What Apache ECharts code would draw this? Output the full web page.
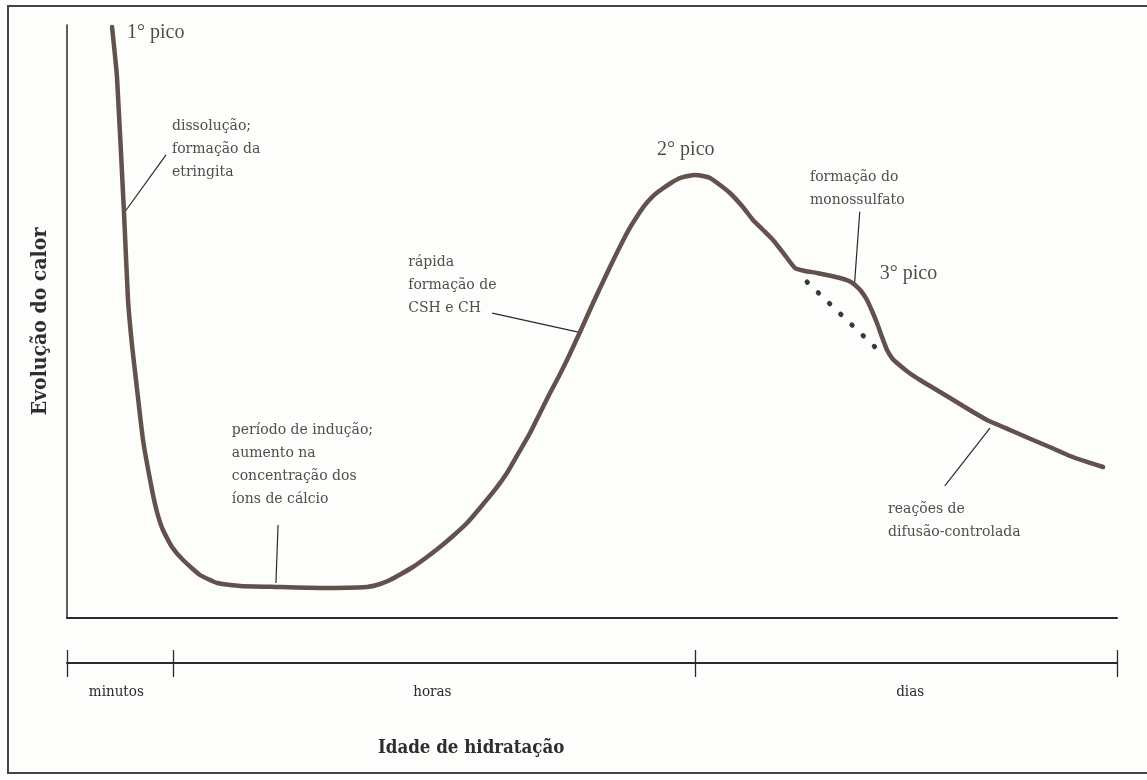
<!DOCTYPE html>
<html>
<head>
<meta charset="utf-8">
<script src="https://cdn.jsdelivr.net/npm/echarts@6/dist/echarts.min.js"></script>
<style>
  html, body { margin: 0; padding: 0; background: #fdfdfb; }
  #chart { width: 1147px; height: 780px; }
</style>
</head>
<body>
<div id="chart"></div>
<script>
// Heat evolution curve of cement hydration (relative units, time axis 0-100)
const heatCurve = [
  [4.29, 99.66], [4.76, 91.23], [5.43, 68.3], [5.81, 53.63], [6.19, 46.04],
  [6.57, 40.13], [7.24, 30.02], [8.10, 21.59], [8.57, 17.88], [9.14, 14.84],
  [10.0, 11.97], [11.05, 9.78], [12.67, 7.25], [14.29, 5.9], [16.48, 5.4],
  [19.9, 5.23], [24.1, 5.06], [28.57, 5.23], [29.81, 5.73], [30.76, 6.41],
  [31.81, 7.42], [32.95, 8.6], [34.29, 10.29], [35.52, 11.97], [36.76, 13.83],
  [38.1, 16.02], [39.33, 18.55], [40.67, 21.42], [41.9, 24.45], [42.95, 27.66],
  [44.1, 31.2], [45.05, 34.57], [46.0, 37.94], [46.86, 40.81], [47.62, 43.51],
  [48.86, 48.23], [50.1, 53.12], [51.71, 59.19], [53.33, 64.92], [54.19, 67.45],
  [55.05, 69.65], [55.81, 71.16], [56.67, 72.34], [57.52, 73.36], [58.38, 74.2],
  [59.14, 74.54], [59.81, 74.7], [60.57, 74.54], [61.24, 74.2], [62.19, 73.02],
  [63.14, 71.67], [64.29, 69.48], [65.33, 67.12], [66.29, 65.43], [67.24, 63.74],
  [68.29, 61.38], [69.33, 59.02], [70.29, 58.52], [71.43, 58.18], [73.62, 57.34],
  [74.48, 56.83], [75.05, 56.16], [75.62, 55.14], [76.19, 53.63], [76.67, 51.77],
  [77.14, 49.75], [77.62, 47.39], [78.1, 45.19], [78.57, 43.84], [79.05, 43.0],
  [80.1, 41.48], [81.24, 40.13], [82.67, 38.62], [84.1, 37.1], [85.81, 35.24],
  [87.62, 33.39], [89.81, 31.7], [92.0, 30.02], [93.81, 28.67], [95.52, 27.32],
  [97.14, 26.31], [98.67, 25.46]
];

// Curve without the monosulfate shoulder (dotted)
const baseCurve = [[70.48, 56.66], [76.95, 45.7]];

// Time-scale divisions and period names
const periodTicks = [0, 10.1, 59.8, 100];
const periodLabelAt = [4.7, 34.8, 80.3];
const periodNames = ['minutos', 'horas', 'dias'];

// Annotations: text and anchor (left edge, vertical centre)
const notes = [
  { text: '1° pico', at: [5.71, 98.65], big: true },
  { text: 'dissolução;\nformação da\netringita', at: [10.0, 79.0] },
  { text: 'rápida\nformação de\nCSH e CH', at: [32.5, 56.1] },
  { text: '2° pico', at: [56.2, 78.9], big: true },
  { text: 'formação do\nmonossulfato', at: [70.76, 72.4] },
  { text: '3° pico', at: [77.4, 58.0], big: true },
  { text: 'período de indução;\naumento na\nconcentração dos\níons de cálcio', at: [15.7, 25.9] },
  { text: 'reações de\ndifusão-controlada', at: [78.2, 16.3] }
];

// Leader lines from the notes to the curve
const leaders = [
  [[9.43, 78.1], [5.43, 68.3]],
  [[20.1, 15.7], [19.9, 5.9]],
  [[40.5, 51.4], [48.7, 48.2]],
  [[75.5, 68.5], [75.0, 56.3]],
  [[87.9, 32.0], [83.6, 22.3]]
];

const yTitle = 'Evolução do calor';
const xTitle = 'Idade de hidratação';

const ink = '#2a2a2a';
const noteFont = '"DejaVu Serif", serif';
const titleFont = '"DejaVu Serif Condensed", "DejaVu Serif", serif';

const series = [];

series.push({
  type: 'line',
  xAxisIndex: 0, yAxisIndex: 0,
  data: heatCurve,
  smooth: 0.15,
  symbol: 'none',
  lineStyle: { color: '#62514d', width: 4.5, join: 'round', cap: 'round' },
  z: 5
});

series.push({
  type: 'line',
  xAxisIndex: 0, yAxisIndex: 0,
  data: baseCurve,
  symbol: 'none',
  lineStyle: { color: '#3a3a3a', width: 5, type: [0.5, 15], cap: 'round' },
  z: 4
});

leaders.forEach(seg => {
  series.push({
    type: 'line',
    xAxisIndex: 0, yAxisIndex: 0,
    data: seg,
    symbol: 'none',
    lineStyle: { color: ink, width: 1.2 },
    z: 3
  });
});

series.push({
  type: 'scatter',
  xAxisIndex: 0, yAxisIndex: 0,
  symbolSize: 0,
  clip: false,
  data: notes.map(n => ({
    value: n.at,
    label: {
      show: true,
      formatter: n.text,
      position: [0, 0],
      align: 'left',
      verticalAlign: 'middle',
      color: n.big ? '#1e1e1e' : '#222222',
      fontFamily: n.big ? '"Liberation Serif", serif' : noteFont,
      fontSize: n.big ? 20 : 14,
      lineHeight: n.big ? 22 : 23
    }
  })),
  z: 6
});

const chart = echarts.init(document.getElementById('chart'), null, { renderer: 'canvas' });
chart.setOption({
  backgroundColor: '#fdfdfb',
  animation: false,
  title: {
    text: xTitle,
    left: 373,
    top: 734,
    textStyle: { fontFamily: titleFont, fontWeight: 'bold', fontSize: 18.5, color: '#2e2e2e' }
  },
  graphic: [{
    type: 'rect',
    shape: { x: 8, y: 6, width: 1160, height: 767 },
    style: { fill: 'none', stroke: '#444', lineWidth: 2 },
    silent: true
  }],
  grid: [
    { left: 67, right: 30, top: 25, bottom: 162 },
    { left: 67, right: 30, top: 640, height: 23 }
  ],
  xAxis: [
    {
      gridIndex: 0, type: 'value', min: 0, max: 100,
      axisLine: { show: true, lineStyle: { color: ink, width: 2 } },
      axisTick: { show: false }, axisLabel: { show: false }, splitLine: { show: false }
    },
    {
      gridIndex: 1, type: 'value', min: 0, max: 100, position: 'bottom',
      axisLine: { show: true, onZero: false, lineStyle: { color: ink, width: 2 } },
      axisTick: { show: true, length: 14, customValues: periodTicks, lineStyle: { color: ink, width: 1.3 } },
      axisLabel: {
        show: true, margin: 22, customValues: periodLabelAt,
        fontFamily: titleFont, fontSize: 15, color: '#2a2a2a',
        formatter: v => {
          let best = 0;
          periodLabelAt.forEach((p, i) => { if (Math.abs(p - v) < Math.abs(periodLabelAt[best] - v)) best = i; });
          return periodNames[best];
        }
      },
      splitLine: { show: false }
    },
    {
      gridIndex: 1, type: 'value', min: 0, max: 100, position: 'bottom',
      axisLine: { show: false, onZero: false },
      axisTick: { show: true, inside: true, length: 13, customValues: periodTicks, lineStyle: { color: ink, width: 1.3 } },
      axisLabel: { show: false }, splitLine: { show: false }
    }
  ],
  yAxis: [
    {
      gridIndex: 0, type: 'value', min: 0, max: 100,
      name: yTitle, nameLocation: 'middle', nameRotate: 90, nameGap: 16,
      nameTextStyle: { fontFamily: titleFont, fontWeight: 'bold', fontSize: 21, color: '#2e2e2e' },
      axisLine: { show: true, lineStyle: { color: ink, width: 1.5 } },
      axisTick: { show: false }, axisLabel: { show: false }, splitLine: { show: false }
    },
    {
      gridIndex: 1, type: 'value', min: 0, max: 1, show: false
    }
  ],
  series: series
});
</script>
</body>
</html>
